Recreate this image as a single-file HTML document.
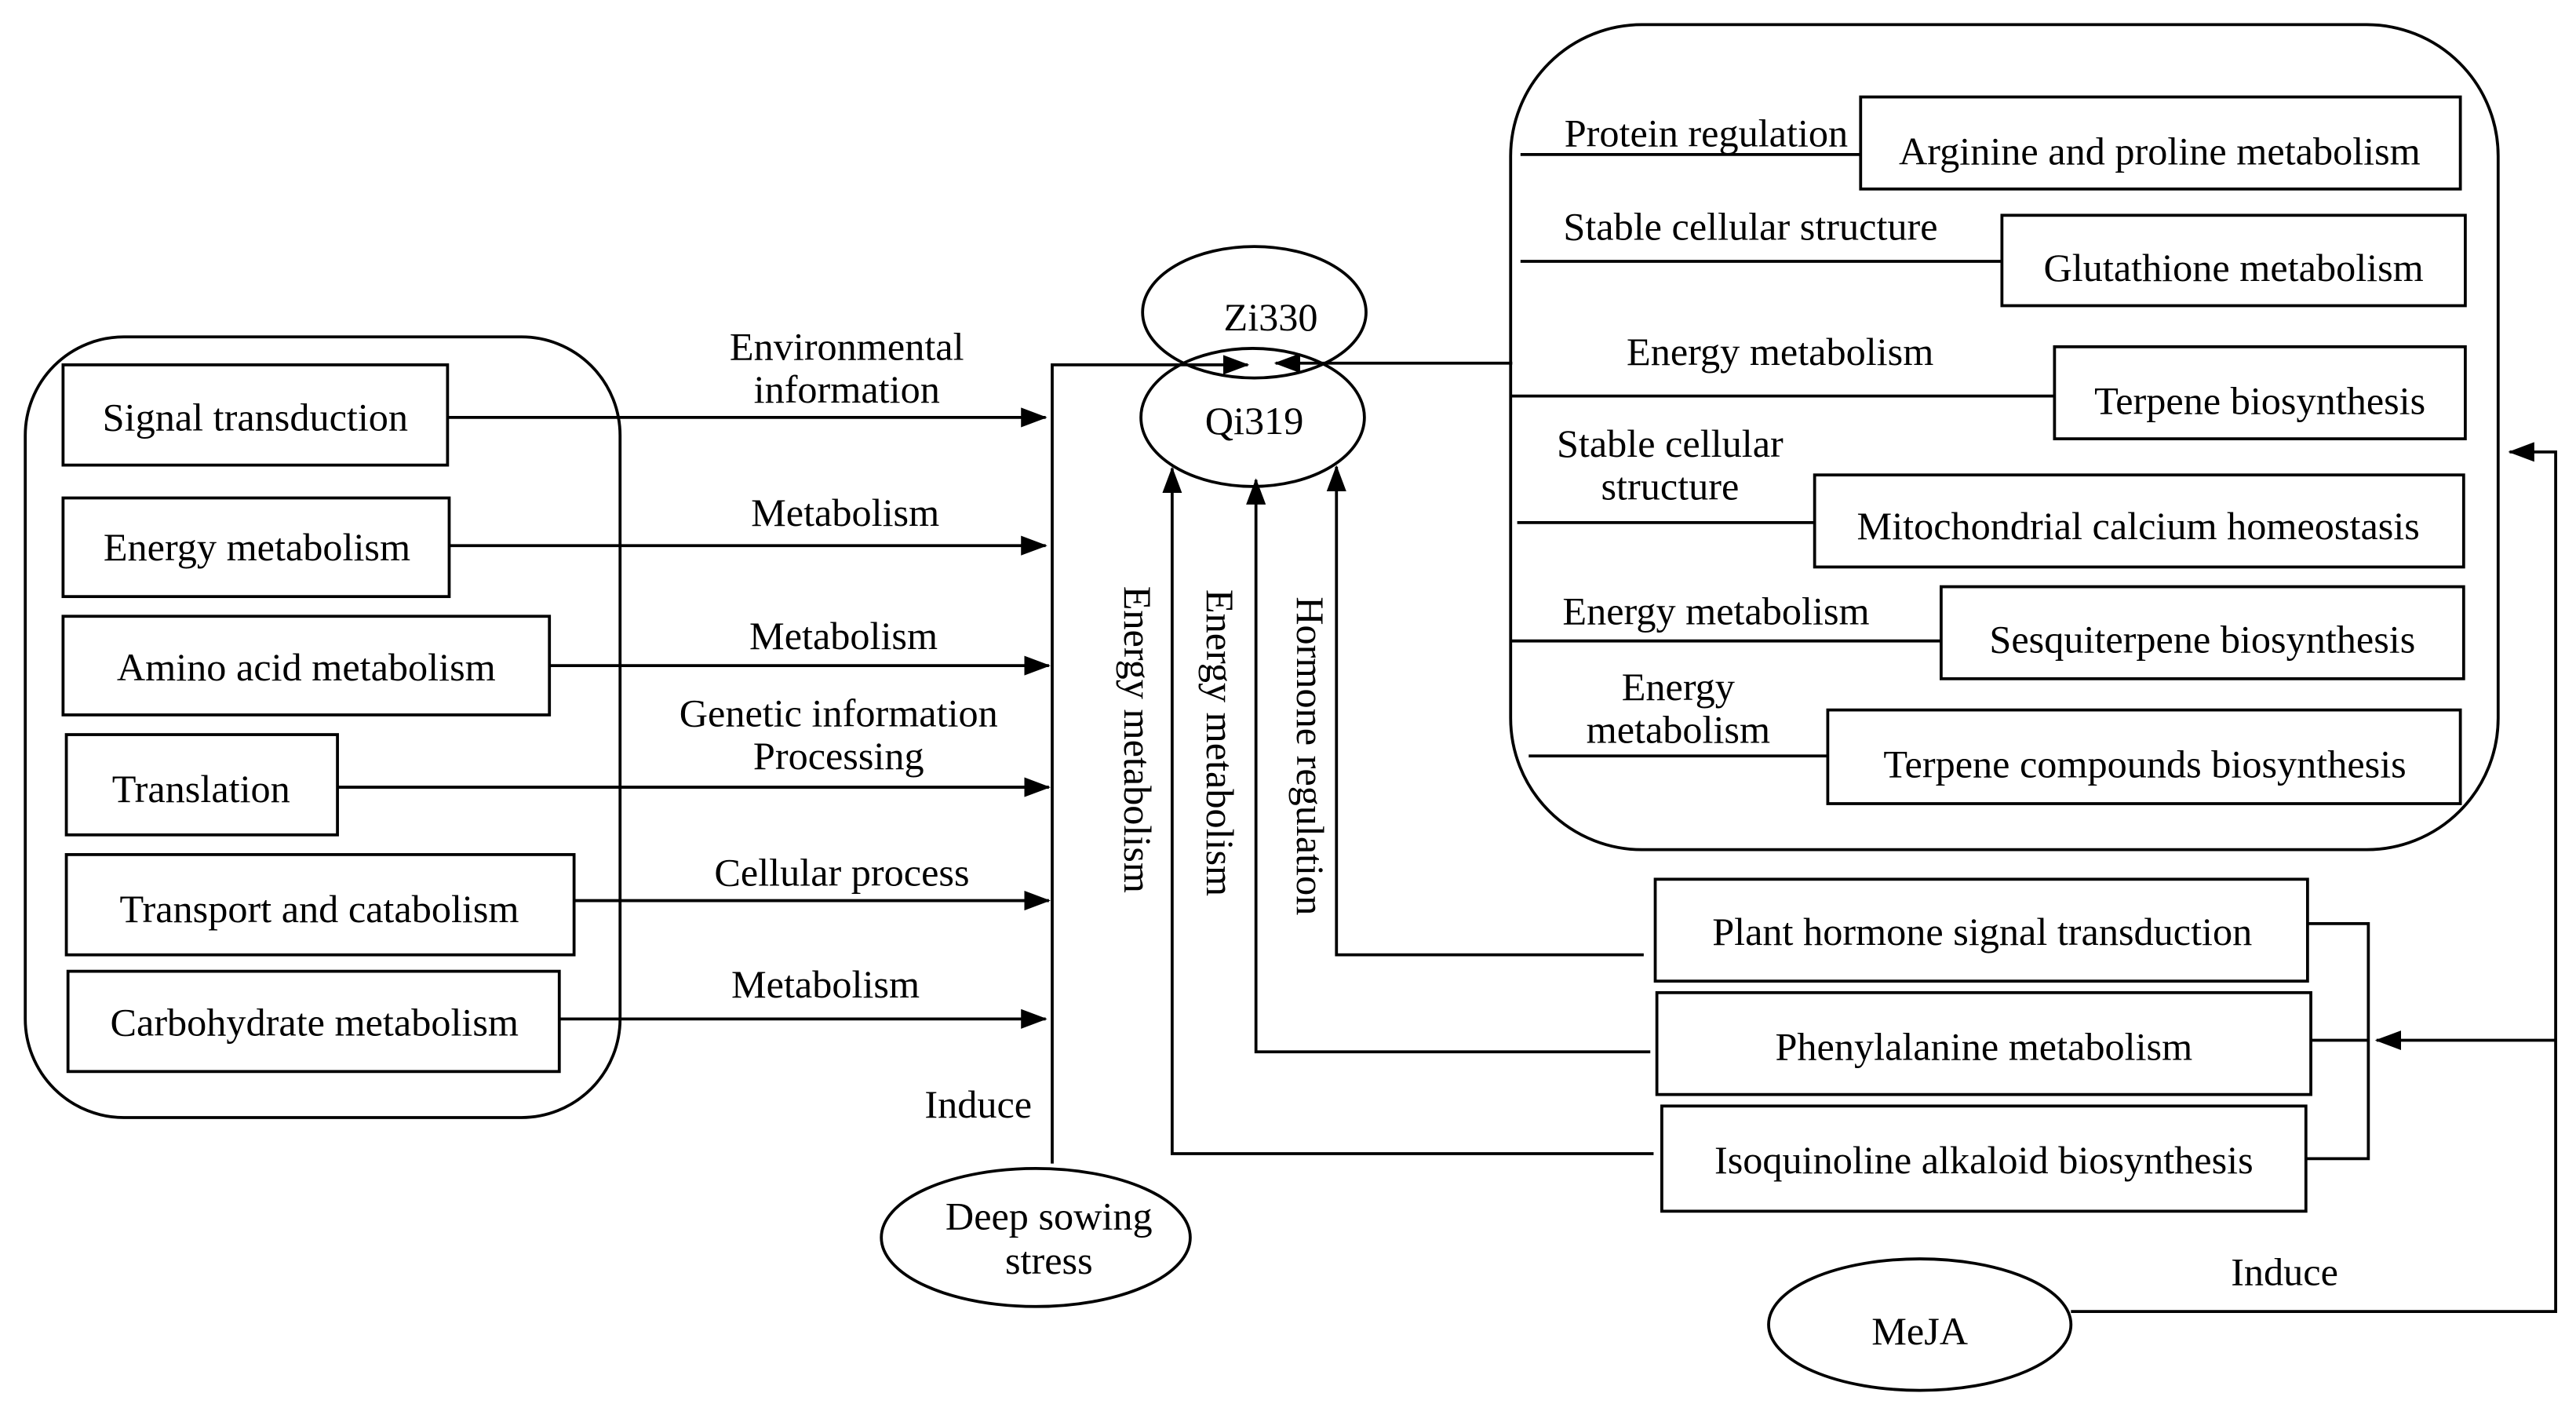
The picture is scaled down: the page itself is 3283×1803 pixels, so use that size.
<!DOCTYPE html>
<html><head><meta charset="utf-8"><style>
html,body{margin:0;padding:0;background:#fff;}
svg{display:block;}
svg text{font-family:"Liberation Serif","Times New Roman","DejaVu Serif",serif;font-size:24px;fill:#000;}
</style></head><body>
<svg width="3283" height="1803" viewBox="0 0 1567 861" xmlns="http://www.w3.org/2000/svg">
<defs>
<marker id="b" markerWidth="16" markerHeight="12" refX="15" refY="6" orient="auto" markerUnits="userSpaceOnUse"><path d="M0,0 L16,6 L0,12 z"/></marker></defs>
<g fill="none" stroke="#000" stroke-width="1.8">
<rect x="15" y="205" width="362" height="475" rx="60"/>
<rect x="38" y="222" width="234" height="61"/>
<rect x="38" y="303" width="235" height="60"/>
<rect x="38" y="375" width="296" height="60"/>
<rect x="40" y="447" width="165" height="61"/>
<rect x="40" y="520" width="309" height="61"/>
<rect x="41" y="591" width="299" height="61"/>
<line x1="272" y1="254" x2="636" y2="254" marker-end="url(#b)"/>
<line x1="273" y1="332" x2="636" y2="332" marker-end="url(#b)"/>
<line x1="334" y1="405" x2="638" y2="405" marker-end="url(#b)"/>
<line x1="205" y1="479" x2="638" y2="479" marker-end="url(#b)"/>
<line x1="349" y1="548" x2="638" y2="548" marker-end="url(#b)"/>
<line x1="340" y1="620" x2="636" y2="620" marker-end="url(#b)"/>
<polyline points="640,708 640,222 759,222" marker-end="url(#b)"/>
<line x1="920" y1="221" x2="776" y2="221" marker-end="url(#b)"/>
<ellipse cx="763" cy="190" rx="68" ry="40"/>
<ellipse cx="762" cy="254" rx="68" ry="42"/>
<ellipse cx="630" cy="753" rx="94" ry="42"/>
<polyline points="1006,702 713,702 713,285" marker-end="url(#b)"/>
<polyline points="1004,640 764,640 764,292" marker-end="url(#b)"/>
<polyline points="1000,581 813,581 813,284" marker-end="url(#b)"/>
<rect x="1007" y="535" width="397" height="62"/>
<rect x="1008" y="604" width="398" height="62"/>
<rect x="1011" y="673" width="392" height="64"/>
<polyline points="1404,562 1441,562 1441,705 1403,705"/>
<line x1="1406" y1="633" x2="1441" y2="633"/>
<line x1="1555" y1="633" x2="1446" y2="633" marker-end="url(#b)"/>
<polyline points="1260,798 1555,798 1555,275 1527,275" marker-end="url(#b)"/>
<ellipse cx="1168" cy="806" rx="92" ry="40"/>
<rect x="919" y="15" width="601" height="502" rx="80"/>
<rect x="1132" y="59" width="365" height="56"/>
<line x1="925" y1="94" x2="1132" y2="94"/>
<rect x="1218" y="131" width="282" height="55"/>
<line x1="925" y1="159" x2="1218" y2="159"/>
<rect x="1250" y="211" width="250" height="56"/>
<line x1="919" y1="241" x2="1250" y2="241"/>
<rect x="1104" y="289" width="395" height="56"/>
<line x1="923" y1="318" x2="1104" y2="318"/>
<rect x="1181" y="357" width="318" height="56"/>
<line x1="919" y1="390" x2="1181" y2="390"/>
<rect x="1112" y="432" width="385" height="57"/>
<line x1="930" y1="460" x2="1112" y2="460"/>
</g>
<g text-anchor="middle" font-family="Liberation Serif, serif" font-size="24">
<text x="155" y="262">Signal transduction</text>
<text x="156" y="341">Energy metabolism</text>
<text x="186" y="414">Amino acid metabolism</text>
<text x="122" y="488">Translation</text>
<text x="194" y="561">Transport and catabolism</text>
<text x="191" y="630">Carbohydrate metabolism</text>
<text x="515" y="219">Environmental</text>
<text x="515" y="245">information</text>
<text x="514" y="320">Metabolism</text>
<text x="513" y="395">Metabolism</text>
<text x="510" y="442">Genetic information</text>
<text x="510" y="468">Processing</text>
<text x="512" y="539">Cellular process</text>
<text x="502" y="607">Metabolism</text>
<text x="595" y="680">Induce</text>
<text x="773" y="201">Zi330</text>
<text x="763" y="264">Qi319</text>
<text x="638" y="748">Deep sowing</text>
<text x="638" y="775">stress</text>
<text transform="translate(684,450) rotate(90)">Energy metabolism</text>
<text transform="translate(734,452) rotate(90)">Energy metabolism</text>
<text transform="translate(789,460) rotate(90)">Hormone regulation</text>
<text x="1206" y="575">Plant hormone signal transduction</text>
<text x="1207" y="645">Phenylalanine metabolism</text>
<text x="1207" y="714">Isoquinoline alkaloid biosynthesis</text>
<text x="1168" y="818">MeJA</text>
<text x="1390" y="782">Induce</text>
<text x="1314" y="100">Arginine and proline metabolism</text>
<text x="1038" y="89">Protein regulation</text>
<text x="1359" y="171">Glutathione metabolism</text>
<text x="1065" y="146">Stable cellular structure</text>
<text x="1375" y="252">Terpene biosynthesis</text>
<text x="1083" y="222">Energy metabolism</text>
<text x="1301" y="328">Mitochondrial calcium homeostasis</text>
<text x="1016" y="278">Stable cellular</text>
<text x="1016" y="304">structure</text>
<text x="1340" y="397">Sesquiterpene biosynthesis</text>
<text x="1044" y="380">Energy metabolism</text>
<text x="1305" y="473">Terpene compounds biosynthesis</text>
<text x="1021" y="426">Energy</text>
<text x="1021" y="452">metabolism</text>
</g>
</svg>
</body></html>
